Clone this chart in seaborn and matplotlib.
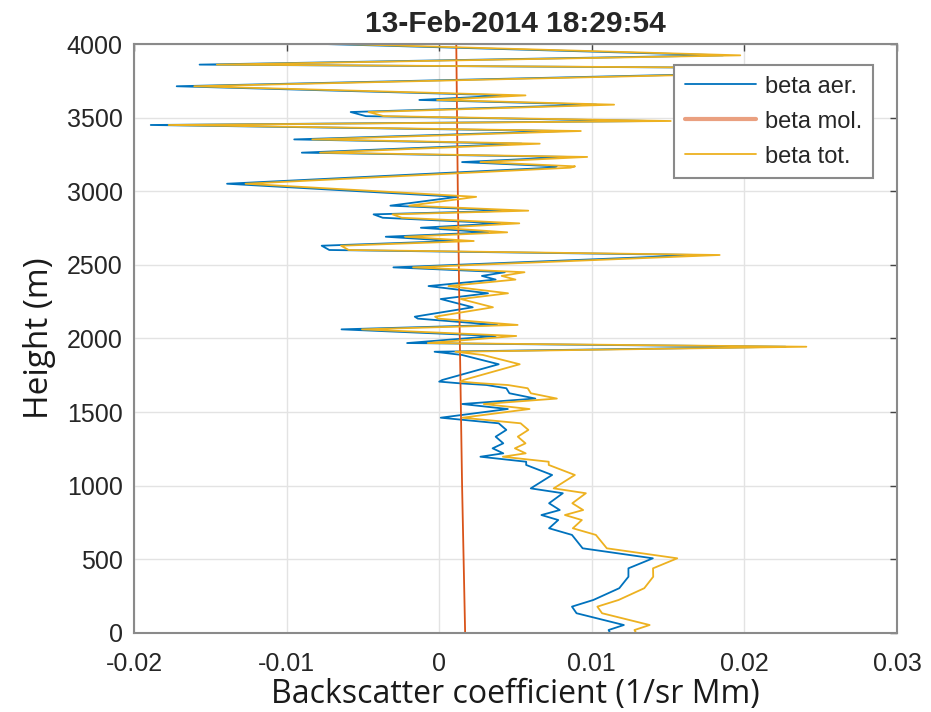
import numpy as np
import pandas as pd
import seaborn as sns
import matplotlib.pyplot as plt

# height (m) of each profile vertex, read top -> bottom
height = [4005, 3923, 3860, 3838, 3818, 3800, 3713, 3651, 3620, 3588,
          3538, 3510, 3477, 3450, 3409, 3352, 3323, 3262, 3233, 3198,
          3169, 3160, 3051, 2962, 2902, 2868, 2843, 2820, 2782, 2752,
          2721, 2691, 2662, 2630, 2601, 2567, 2483, 2450, 2425, 2400,
          2356, 2307, 2268, 2212, 2148, 2135, 2092, 2062, 2017, 1969,
          1944, 1910, 1888, 1825, 1718, 1707, 1696, 1684, 1662, 1628,
          1592, 1555, 1521, 1462, 1424, 1379, 1333, 1288, 1254, 1220,
          1197, 1163, 1141, 1073, 982, 949, 881, 835, 801, 767,
          711, 666, 575, 507, 439, 382, 304, 224, 179, 134,
          54, 20, 0]

# aerosol backscatter (1/sr Mm)
beta_aer = [-0.0092, 0.0186, -0.0157, 0.0200, 0.0160, 0.0195, -0.0172, 0.0045, -0.0013, 0.0103,
            -0.0058, -0.0048, 0.0140, -0.0189, 0.0081, -0.0095, 0.0054, -0.0090, 0.0085, 0.0015,
            0.0077, 0.0074, -0.0139, 0.0012, -0.0032, 0.0046, -0.0043, -0.0037, 0.0040, -0.0012,
            0.0032, -0.0035, 0.0010, -0.0077, -0.0072, 0.0171, -0.0030, 0.0043, 0.0028, 0.0037,
            -0.0007, 0.0032, 0.0001, 0.0022, -0.0016, -0.0014, 0.0038, -0.0064, 0.0037, -0.0021,
            0.0227, -0.0003, 0.0015, 0.0039, 0.0002, 0.0000, 0.0013, 0.0031, 0.0044, 0.0046,
            0.0063, 0.0015, 0.0045, 0.0001, 0.0039, 0.0044, 0.0037, 0.0042, 0.0035, 0.0042,
            0.0027, 0.0057, 0.0057, 0.0074, 0.0060, 0.0081, 0.0072, 0.0079, 0.0067, 0.0078,
            0.0072, 0.0087, 0.0094, 0.0140, 0.0124, 0.0124, 0.0118, 0.0101, 0.0087, 0.0090,
            0.0121, 0.0111, 0.0112]

# molecular backscatter read at a few heights
mol_height = [0, 1000, 2000, 3000, 4000]
mol_value = [0.00170, 0.00150, 0.00135, 0.00122, 0.00112]

title = '13-Feb-2014 18:29:54'
labels = ['beta aer.', 'beta mol.', 'beta tot.']
colors = ['#0072BD', '#D95319', '#EDB120']

h = np.array(height, dtype=float)
aer = np.array(beta_aer)
mol = np.interp(h, mol_height, mol_value)
df = pd.DataFrame({'h': h, 'aer': aer, 'mol': mol, 'tot': aer + mol})

sns.set_style('white')
fig = plt.figure(figsize=(9.31, 7.12), dpi=100)
ax = fig.add_axes([0.1439, 0.111, 0.8196, 0.8272])

for col, lab, c in zip(['aer', 'mol', 'tot'], labels, colors):
    sns.lineplot(data=df, x=col, y='h', sort=False, estimator=None,
                 color=c, linewidth=1.3, label=lab, ax=ax, legend=False)

ax.set_xlim(-0.02, 0.03)
ax.set_ylim(0, 4000)
ax.set_xticks([-0.02, -0.01, 0, 0.01, 0.02, 0.03])
ax.set_xticklabels(['-0.02', '-0.01', '0', '0.01', '0.02', '0.03'])
ax.set_yticks(np.arange(0, 4001, 500))
ax.grid(True, color='#e3e3e3', linewidth=1)
for s in ax.spines.values():
    s.set_color('#8a8a8a')
    s.set_linewidth(1.5)
ax.tick_params(direction='in', length=5, width=1, color='#444444',
               labelsize=18, labelcolor='#262626', top=True, right=True,
               labeltop=False, labelright=False)
ax.tick_params(axis='x', pad=14)
ax.tick_params(axis='y', pad=8)
for t in ax.get_xticklabels() + ax.get_yticklabels():
    t.set_family('Liberation Sans')

ax.set_xlabel('Backscatter coefficient (1/sr Mm)', fontsize=23,
              family='Open Sans', color='#1a1a1a', labelpad=1)
ax.set_ylabel('Height (m)', fontsize=24, family='Open Sans',
              color='#1a1a1a', labelpad=8)
ax.set_title(title, fontsize=21.5, fontweight='bold', family='Liberation Sans', pad=9)

handles = ax.get_lines()[:3]
leg = ax.legend(handles, labels, loc='upper right',
                bbox_to_anchor=(0.9377, 0.9087), bbox_transform=fig.transFigure,
                prop={'family': 'Liberation Sans', 'size': 17},
                handlelength=3.0, frameon=True, fancybox=False, framealpha=1,
                borderpad=0.45, labelspacing=0.55, handletextpad=0.4,
                borderaxespad=0)
leg.get_frame().set_edgecolor('#8a8a8a')
leg.get_frame().set_linewidth(1.5)
leg.legend_handles[1].set_linewidth(3)
leg.legend_handles[1].set_alpha(0.55)

fig.savefig('out.png', dpi=100)
